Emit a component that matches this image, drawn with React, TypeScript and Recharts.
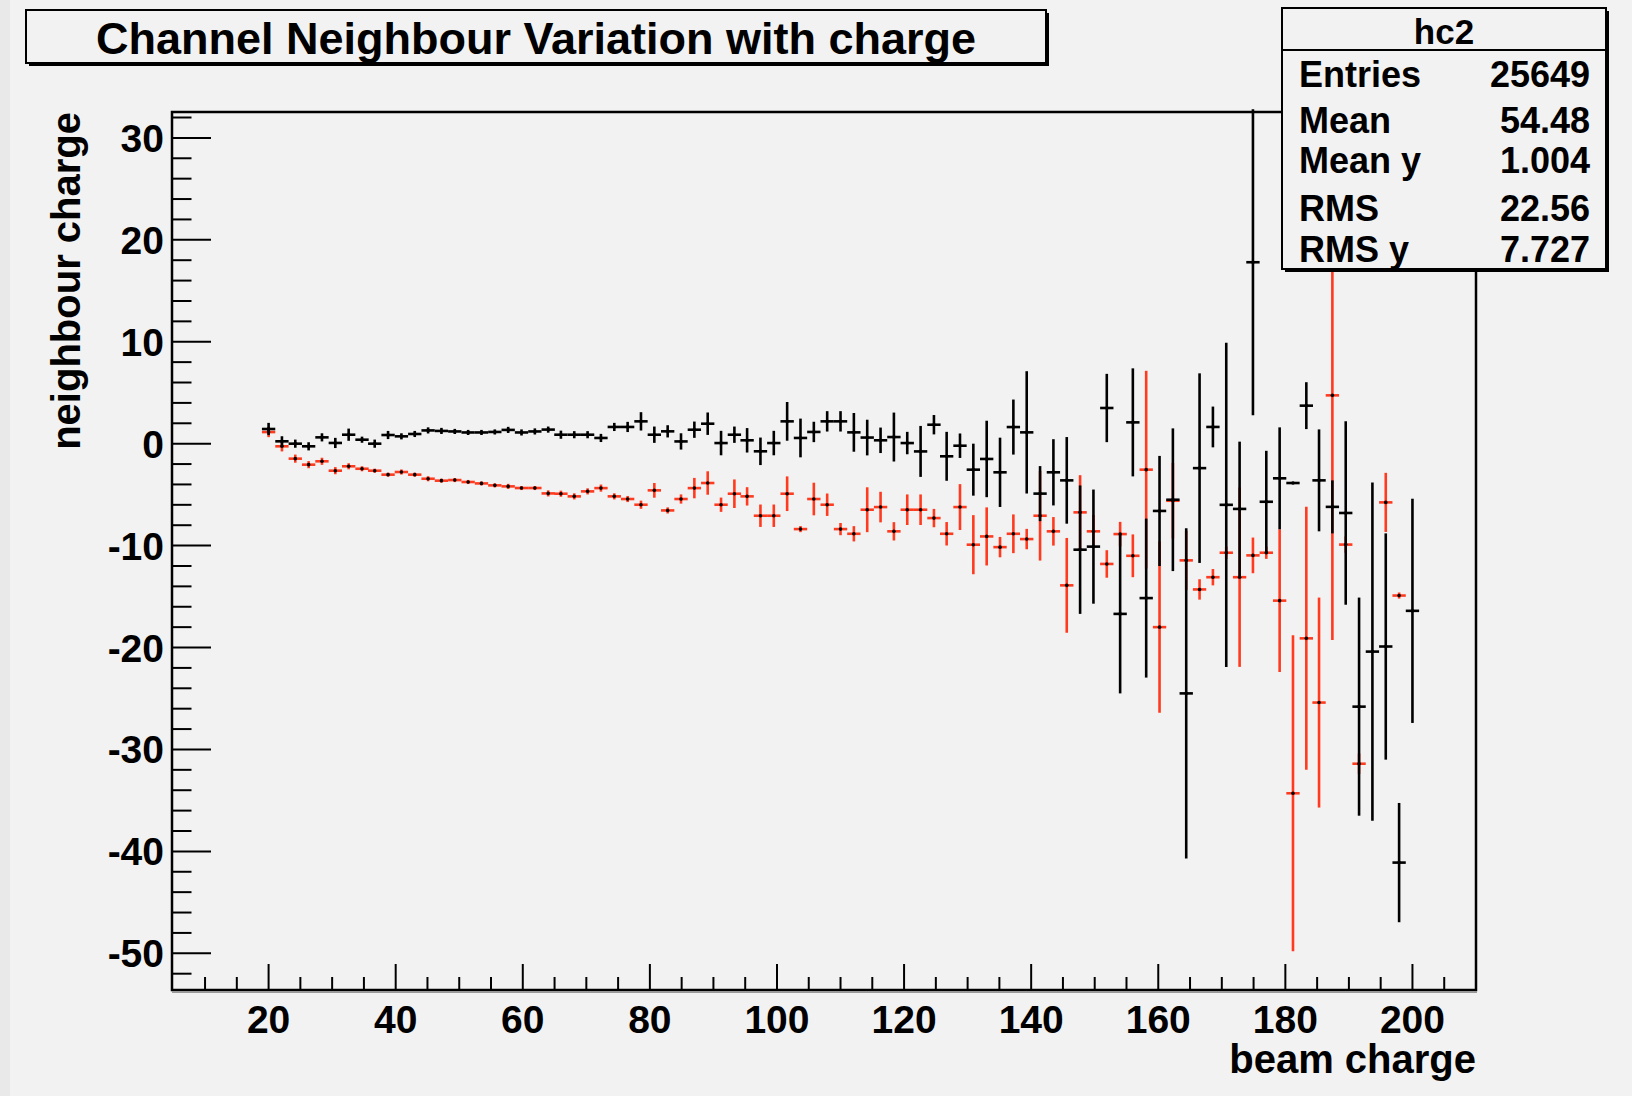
import React from "react";
import { ScatterChart, Scatter, XAxis, YAxis, ErrorBar } from "recharts";

const FONT = '"Liberation Sans", Arial, Helvetica, sans-serif';
const RED = "#ff3a1f";
const BG = "#f2f2f2";

// bin centres (beam charge)
const BIN_X = [
  20, 22.1, 24.2, 26.3, 28.4, 30.5, 32.6, 34.7, 36.7, 38.8,
  40.9, 43.0, 45.1, 47.2, 49.3, 51.4, 53.5, 55.6, 57.7, 59.8,
  61.9, 64.0, 66.0, 68.1, 70.2, 72.3, 74.4, 76.5, 78.6, 80.7,
  82.8, 84.9, 87.0, 89.1, 91.2, 93.3, 95.3, 97.4, 99.5, 101.6,
  103.7, 105.8, 107.9, 110.0, 112.1, 114.2, 116.3, 118.4, 120.5, 122.6,
  124.7, 126.7, 128.8, 130.9, 133.0, 135.1, 137.2, 139.3, 141.4, 143.5,
  145.6, 147.7, 149.8, 151.9, 154.0, 156.0, 158.1, 160.2, 162.3, 164.4,
  166.5, 168.6, 170.7, 172.8, 174.9, 177.0, 179.1, 181.2, 183.3, 185.3,
  187.4, 189.5, 191.6, 193.7, 195.8, 197.9, 200.0,
];
const BIN_HALF = 1.05;

const BLACK_Y = [
  1.44, 0.23, 0.0, -0.26, 0.62, 0.07, 0.88, 0.39, 0.0, 0.85,
  0.72, 0.95, 1.3, 1.25, 1.2, 1.1, 1.1, 1.15, 1.35, 1.1,
  1.2, 1.38, 0.88, 0.88, 0.88, 0.56, 1.64, 1.64, 2.19, 0.88,
  1.21, 0.22, 1.37, 1.96, 0.06, 0.88, 0.33, -0.75, 0.06, 2.19,
  0.56, 1.15, 2.19, 2.19, 1.11, 0.6, 0.33, 0.65, 0.06, -0.76,
  1.86, -1.24, -0.2, -2.55, -1.5, -2.81, 1.63, 1.11, -4.9, -2.81,
  -3.6, -10.4, -10.1, 3.5, -16.7, 2.09, -15.15, -6.6, -5.5, -24.5,
  -2.4, 1.64, -6.0, -6.4, 17.8, -5.7, -3.4, -3.86, 3.73, -3.6,
  -6.2, -6.8, -25.8, -20.4, -19.9, -41.1, -16.4,
];
const BLACK_ERR = [
  0.6, 0.5, 0.4, 0.4, 0.4, 0.5, 0.6, 0.3, 0.4, 0.4,
  0.3, 0.3, 0.3, 0.3, 0.25, 0.25, 0.25, 0.25, 0.3, 0.3,
  0.3, 0.3, 0.4, 0.35, 0.35, 0.4, 0.4, 0.5, 0.9, 0.8,
  0.6, 0.8, 0.8, 1.1, 1.2, 0.8, 1.2, 1.35, 1.2, 1.9,
  1.9, 1.0, 1.0, 1.0, 1.9, 1.75, 1.25, 2.4, 1.1, 2.5,
  0.95, 2.4, 1.2, 2.55, 3.75, 3.4, 2.7, 6.0, 2.7, 3.25,
  4.25, 6.3, 5.6, 3.35, 7.8, 5.3, 7.8, 5.4, 7.0, 16.2,
  9.3, 2.0, 15.9, 6.6, 15.0, 5.0, 5.0, 0, 2.3, 5.0,
  2.6, 9.0, 10.7, 16.6, 11.1, 5.85, 11.0,
];

const RED_Y: (number | null)[] = [
  1.14, -0.26, -1.47, -2.06, -1.73, -2.65, -2.22, -2.46, -2.65, -3.04,
  -2.78, -3.04, -3.44, -3.63, -3.57, -3.76, -3.9, -4.09, -4.19, -4.35,
  -4.35, -4.88, -4.91, -5.17, -4.68, -4.36, -5.17, -5.43, -5.99, -4.58,
  -6.55, -5.43, -4.36, -3.86, -5.99, -4.91, -5.17, -7.07, -7.07, -4.91,
  -8.38, -5.43, -5.99, -8.38, -8.84, -6.48, -6.22, -8.6, -6.48, -6.48,
  -7.3, -8.84, -6.22, -9.91, -9.1, -10.15, -8.84, -9.36, -7.07, -8.6,
  -13.9, -6.74, -8.6, -11.8, -8.87, -11.0, -2.55, -18.0, -5.6, -11.45,
  -14.3, -13.1, -10.7, -13.1, -10.96, -10.7, -15.4, -34.3, -19.1, -25.4,
  4.74, -9.9, -31.4, null, -5.76, -14.9, null,
];
const RED_ERR = [
  0.5, 0.5, 0.4, 0.35, 0.35, 0.35, 0.3, 0.25, 0.2, 0.2,
  0.25, 0.2, 0.25, 0.2, 0.2, 0.2, 0.2, 0.2, 0.25, 0.2,
  0.2, 0.3, 0.3, 0.3, 0.3, 0.35, 0.3, 0.3, 0.4, 0.72,
  0.3, 0.45, 1.0, 1.15, 0.7, 1.4, 0.9, 1.1, 1.1, 1.7,
  0.3, 1.6, 1.1, 0.6, 0.75, 2.2, 1.5, 0.9, 1.5, 1.5,
  0.9, 1.15, 2.25, 2.9, 2.85, 1.0, 1.9, 1.0, 4.4, 1.4,
  4.65, 3.65, 1.6, 1.35, 1.2, 2.1, 9.7, 8.4, 3.7, 2.9,
  1.0, 0.8, 0.6, 8.8, 1.75, 0.6, 7.0, 15.5, 12.9, 10.3,
  24, 0.8, 1.0, 0, 2.9, 0.3, 0,
];

const X_TICKS = [
  10, 15, 20, 25, 30, 35, 40, 45, 50, 55, 60, 65, 70, 75, 80, 85, 90, 95, 100, 105,
  110, 115, 120, 125, 130, 135, 140, 145, 150, 155, 160, 165, 170, 175, 180, 185, 190, 195, 200, 205,
];
const Y_TICKS = [
  -52, -50, -48, -46, -44, -42, -40, -38, -36, -34, -32, -30, -28, -26, -24, -22, -20, -18, -16, -14, -12,
  -10, -8, -6, -4, -2, 0, 2, 4, 6, 8, 10, 12, 14, 16, 18, 20, 22, 24, 26, 28, 30, 32,
];

const STATS = [
  ["Entries", "25649"],
  ["Mean", "54.48"],
  ["Mean y", "1.004"],
  ["RMS", "22.56"],
  ["RMS y", "7.727"],
];
const STAT_BASE = [87, 133, 173, 221, 262];

const blackData = BIN_X.map((x, i) => ({ x, y: BLACK_Y[i], ey: BLACK_ERR[i], ex: BIN_HALF }));
const redData = BIN_X.map((x, i) => ({ x, y: RED_Y[i], ey: RED_ERR[i], ex: BIN_HALF })).filter((d) => d.y !== null);

const dot = (p: any) => <circle cx={p.cx} cy={p.cy} r={1.8} fill="#000" />;

function XTick(props: any) {
  const { x, y, payload } = props;
  const v = payload.value;
  const major = v % 20 === 0;
  return (
    <g>
      <line x1={x} y1={y} x2={x} y2={y - (major ? 26 : 13)} stroke="#000" strokeWidth={2} />
      {major && (
        <text x={x} y={y + 43} textAnchor="middle" fontSize={39} fontWeight="bold" fontFamily={FONT} fill="#000">
          {v}
        </text>
      )}
    </g>
  );
}

function YTick(props: any) {
  const { x, y, payload } = props;
  const v = payload.value;
  const major = v % 10 === 0;
  return (
    <g>
      <line x1={x} y1={y} x2={x + (major ? 39 : 19.5)} y2={y} stroke="#000" strokeWidth={2} />
      {major && (
        <text x={x - 8} y={y + 14} textAnchor="end" fontSize={39} fontWeight="bold" fontFamily={FONT} fill="#000">
          {v}
        </text>
      )}
    </g>
  );
}

export default function App() {
  return (
    <div style={{ position: "absolute", left: 0, top: 0, width: 1632, height: 1096, background: BG, overflow: "hidden" }}>
      <div style={{ position: "absolute", left: 0, top: 0, width: 10, height: 1096, background: "#e9e9e9" }} />
      <div style={{ position: "absolute", left: 0, top: 0 }}>
        <ScatterChart width={1632} height={1096} margin={{ top: 112, right: 156, bottom: 0, left: 0 }}>
          <XAxis
            type="number" dataKey="x" domain={[4.8, 210]} ticks={X_TICKS} interval={0}
            tickSize={0} tickMargin={0} tick={XTick} axisLine={false} height={106} allowDataOverflow
          />
          <YAxis
            type="number" dataKey="y" domain={[-53.6, 32.54]} ticks={Y_TICKS} interval={0}
            tickSize={0} tickMargin={0} tick={YTick} axisLine={false} width={172} allowDataOverflow
          />
          <Scatter data={redData} shape={dot} isAnimationActive={false}>
            <ErrorBar dataKey="ey" direction="y" width={0} stroke={RED} strokeWidth={2.6} isAnimationActive={false} />
            <ErrorBar dataKey="ex" direction="x" width={0} stroke={RED} strokeWidth={2.6} isAnimationActive={false} />
          </Scatter>
          <Scatter data={blackData} shape={dot} isAnimationActive={false}>
            <ErrorBar dataKey="ey" direction="y" width={0} stroke="#000" strokeWidth={2.6} isAnimationActive={false} />
            <ErrorBar dataKey="ex" direction="x" width={0} stroke="#000" strokeWidth={2.6} isAnimationActive={false} />
          </Scatter>
        </ScatterChart>
      </div>
      <svg width={1632} height={1096} style={{ position: "absolute", left: 0, top: 0, pointerEvents: "none" }}>
        {/* frame */}
        <rect x={172} y={112} width={1304} height={878} fill="none" stroke="#000" strokeWidth={2.5} />
        <line x1={172} y1={992} x2={1477} y2={992} stroke="#999" strokeWidth={2} />

        {/* title box */}
        <rect x={29} y={13} width={1020} height={53} fill="#000" />
        <rect x={26} y={10} width={1020} height={53} fill={BG} stroke="#000" strokeWidth={2} />
        <text x={536} y={54} textAnchor="middle" fontSize={45} fontWeight="bold" fontFamily={FONT} fill="#000">
          Channel Neighbour Variation with charge
        </text>

        {/* stats box */}
        <rect x={1285} y={11} width={324} height={261} fill="#000" />
        <rect x={1282} y={8} width={324} height={261} fill={BG} stroke="#000" strokeWidth={2} />
        <line x1={1282} y1={50} x2={1606} y2={50} stroke="#000" strokeWidth={2} />
        <text x={1444} y={44} textAnchor="middle" fontSize={35} fontWeight="bold" fontFamily={FONT} fill="#000">
          hc2
        </text>
        {STATS.map(([k, v], i) => (
          <g key={k}>
            <text x={1299} y={STAT_BASE[i]} fontSize={36} fontWeight="bold" fontFamily={FONT} fill="#000">{k}</text>
            <text x={1590} y={STAT_BASE[i]} textAnchor="end" fontSize={36} fontWeight="bold" fontFamily={FONT} fill="#000">{v}</text>
          </g>
        ))}

        {/* axis titles */}
        <text x={1476} y={1073} textAnchor="end" fontSize={40} fontWeight="bold" fontFamily={FONT} fill="#000">
          beam charge
        </text>
        <text transform="translate(80,112) rotate(-90)" textAnchor="end" fontSize={40} fontWeight="bold" fontFamily={FONT} fill="#000">
          neighbour charge
        </text>
      </svg>
    </div>
  );
}
